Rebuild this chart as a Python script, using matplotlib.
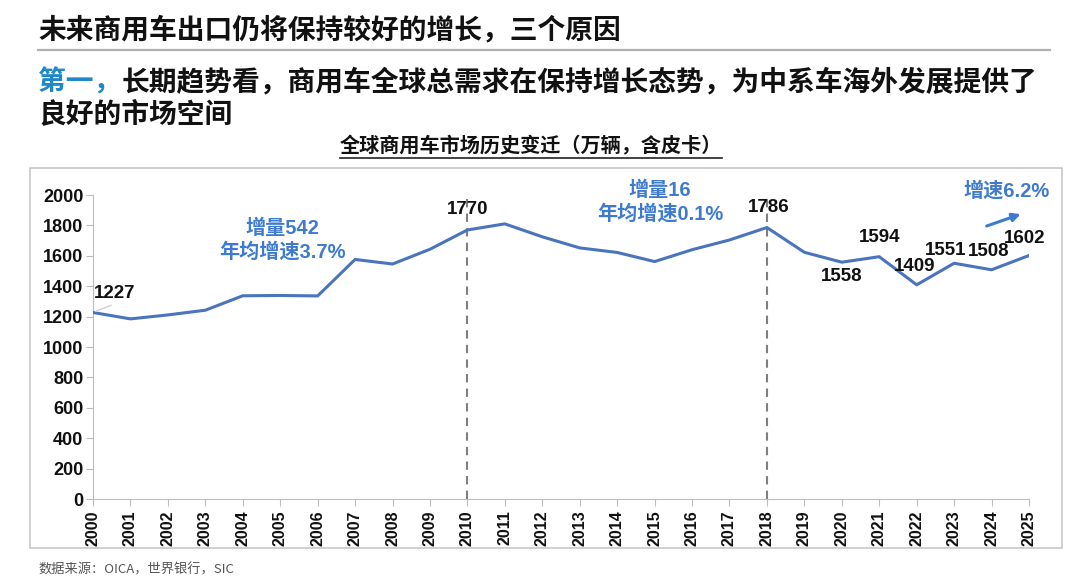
import matplotlib.pyplot as plt
from matplotlib.patches import Rectangle
from matplotlib.lines import Line2D

# data (万辆)
years = list(range(2000, 2026))
sales = [1227, 1185, 1211, 1242, 1337, 1339, 1336, 1576, 1546, 1643,
         1770, 1810, 1725, 1652, 1622, 1562, 1640, 1704, 1786, 1623,
         1558, 1594, 1409, 1551, 1508, 1602]
labeled_years = [2000, 2010, 2018, 2020, 2021, 2022, 2023, 2024, 2025]
split_years = [2010, 2018]
yticks = list(range(0, 2001, 200))

# label offsets in pixels (dx, dy) for the value labels
label_offsets = {2000: (22, 19), 2010: (0, 20), 2018: (2, 20), 2020: (0, -14),
                 2021: (0, 19), 2022: (-2, 18), 2023: (-8, 13), 2024: (-3, 18),
                 2025: (-4, 17)}

LINE_BLUE = "#4a74bd"
TEXT_BLUE = "#3e7bd0"
HEAD_BLUE = "#1f88c9"
CJK = ["Noto Sans CJK SC", "DejaVu Sans"]
NUM = ["Liberation Sans", "Noto Sans CJK SC"]

plt.rcParams["font.family"] = CJK

W, H = 1080, 580
fig = plt.figure(figsize=(W / 100, H / 100), dpi=100)


def fx(px):
    return px / W


def fy(py):
    return 1 - py / H


# header
fig.text(fx(38), fy(30), "未来商用车出口仍将保持较好的增长，三个原因",
         fontsize=20, weight="bold", va="center", color="#111111")
fig.add_artist(Line2D([fx(38), fx(1050)], [fy(50), fy(50)], color="#b0b0b0", lw=1.6))

t1 = fig.text(fx(38), fy(82), "第一，", fontsize=20, weight="bold",
              va="center", color=HEAD_BLUE)
fig.canvas.draw()
bb = t1.get_window_extent()
fig.text(bb.x1 / W, fy(82), "长期趋势看，商用车全球总需求在保持增长态势，为中系车海外发展提供了",
         fontsize=20, weight="bold", va="center", color="#111111")
fig.text(fx(38), fy(115), "良好的市场空间", fontsize=20, weight="bold",
         va="center", color="#111111")

# chart frame and title
fig.add_artist(Rectangle((fx(30), fy(548)), fx(1062) - fx(30), fy(168) - fy(548),
                         transform=fig.transFigure, fill=False, ec="#c8c8c8", lw=1.2))
ct = fig.text(fx(531), fy(146), "全球商用车市场历史变迁（万辆，含皮卡）",
              fontsize=14.5, weight="bold", ha="center", va="center", color="#111111")
fig.canvas.draw()
cb = ct.get_window_extent()
fig.add_artist(Line2D([cb.x0 / W, cb.x1 / W], [fy(158), fy(158)], color="#222222", lw=1.2))

# axes
ax = fig.add_axes([fx(93), fy(499), fx(1029) - fx(93), fy(195) - fy(499)])
ax.plot(years, sales, color=LINE_BLUE, lw=2.2, zorder=3)
ax.set_xlim(years[0], years[-1])
ax.set_ylim(0, 2000)
ax.set_yticks(yticks)
ax.set_xticks(years)
ax.set_xticklabels([str(y) for y in years], rotation=90, fontsize=11.5,
                   fontweight="bold", family=NUM)
ax.set_yticklabels([str(v) for v in yticks], fontsize=13, fontweight="bold", family=NUM)
for s in ["top", "right"]:
    ax.spines[s].set_visible(False)
for s in ["left", "bottom"]:
    ax.spines[s].set_color("#bdbdbd")
ax.tick_params(axis="both", color="#bdbdbd", length=5, labelcolor="#111111")
ax.tick_params(axis="x", pad=3)
ax.tick_params(axis="y", pad=2)

for yr in split_years:
    ax.axvline(yr, color="#7f7f7f", ls=(0, (4, 3)), lw=1.5, zorder=2)

for yr in labeled_years:
    v = sales[years.index(yr)]
    dx, dy = label_offsets[yr]
    ax.annotate(str(v), (yr, v), xytext=(dx * 0.72, dy * 0.72), textcoords="offset points",
                ha="center", va="center", fontsize=13.5, fontweight="bold",
                family=NUM, color="#111111", zorder=4)

# faint leader for first label
ax.annotate("", (years[0], sales[0]), xytext=(15, 6), textcoords="offset points",
            arrowprops=dict(arrowstyle="-", color="#d0d0d0", lw=1))

# blue growth notes
ax.text(2005.05, 1700, "增量542\n年均增速3.7%", ha="center", va="center", fontsize=14.5,
        fontweight="bold", color=TEXT_BLUE, family=NUM, linespacing=1.25)
ax.text(2015.15, 1950, "增量16\n年均增速0.1%", ha="center", va="center", fontsize=14.5,
        fontweight="bold", color=TEXT_BLUE, family=NUM, linespacing=1.25)
ax.text(2024.4, 2030, "增速6.2%", ha="center", va="center", fontsize=14.5,
        fontweight="bold", color=TEXT_BLUE, family=NUM, clip_on=False)
ax.annotate("", xy=(2024.85, 1880), xytext=(2023.8, 1790),
            arrowprops=dict(arrowstyle="-|>", color=TEXT_BLUE, lw=2.2, mutation_scale=12))

# source
fig.text(fx(38), fy(570), "数据来源：OICA，世界银行，SIC", fontsize=9.5,
         va="center", color="#555555")

fig.savefig("out.png", dpi=100)
